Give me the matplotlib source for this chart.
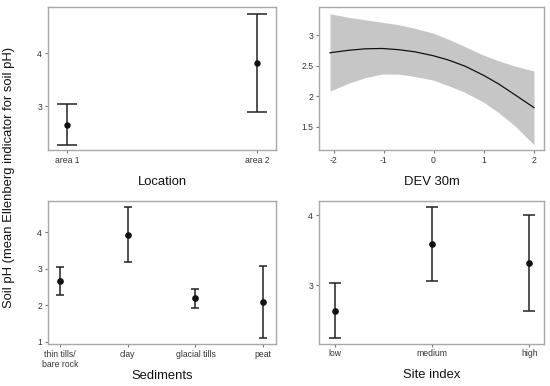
import matplotlib
matplotlib.use("Agg")
import matplotlib.pyplot as plt

plt.rcParams['font.family'] = ['Liberation Sans', 'DejaVu Sans']

# ---- data ----
loc_cats = ["area 1", "area 2"]
loc_mean = [2.65, 3.81]
loc_low = [2.26, 2.88]
loc_high = [3.04, 4.74]

dev_x = [-2.07, -1.70, -1.37, -1.03, -0.70, -0.37, 0.0, 0.30, 0.63, 1.0, 1.30, 1.63, 2.01]
dev_fit = [2.71, 2.75, 2.774, 2.78, 2.76, 2.725, 2.66, 2.59, 2.49, 2.34, 2.20, 2.02, 1.81]
dev_upper = [3.35, 3.29, 3.25, 3.21, 3.17, 3.11, 3.03, 2.93, 2.81, 2.67, 2.58, 2.49, 2.41]
dev_lower = [2.08, 2.21, 2.30, 2.36, 2.36, 2.32, 2.26, 2.17, 2.06, 1.90, 1.73, 1.51, 1.20]

sed_cats = ["thin tills/\nbare rock", "clay", "glacial tills", "peat"]
sed_mean = [2.66, 3.93, 2.19, 2.10]
sed_low = [2.27, 3.18, 1.93, 1.11]
sed_high = [3.05, 4.69, 2.45, 3.08]

site_cats = ["low", "medium", "high"]
site_mean = [2.64, 3.59, 3.32]
site_low = [2.25, 3.06, 2.64]
site_high = [3.03, 4.12, 4.00]

W, H = 550, 386
fig = plt.figure(figsize=(W / 100, H / 100), dpi=100)
fig.patch.set_facecolor("white")


def make_ax(left, top, right, bottom):
    return fig.add_axes([left / W, (H - bottom) / H, (right - left) / W, (bottom - top) / H])


SPINE = "#a8a8a8"
TICKC = "#333333"


def style(ax, xlabel):
    for s in ax.spines.values():
        s.set_color(SPINE)
        s.set_linewidth(1.0)
    ax.tick_params(axis="both", which="both", direction="out", length=2.2, width=0.8,
                   color="#777777", labelsize=6.2, labelcolor=TICKC, pad=2)
    ax.set_xlabel(xlabel, fontsize=9.4, color="#111111")
    ax.xaxis.label.set_va("center")
    bbox_h = ax.get_position().height * H
    ax.xaxis.set_label_coords(0.5, -32.0 / bbox_h)


def errplot(ax, cats, mean, low, high, capsize, ms):
    xs = list(range(1, len(cats) + 1))
    yerr = [[m - l for m, l in zip(mean, low)], [h - m for m, h in zip(mean, high)]]
    ax.errorbar(xs, mean, yerr=yerr, fmt="o", color="#111111", ecolor="#222222",
                elinewidth=1.1, capsize=capsize, capthick=1.1, markersize=ms)
    ax.set_xticks(xs)
    ax.set_xticklabels(cats)


# Panel 1: Location
ax1 = make_ax(48, 7, 276, 150)
errplot(ax1, loc_cats, loc_mean, loc_low, loc_high, 7.4, 3.6)
ax1.set_xlim(0.9, 2.1)
ax1.set_ylim(2.17, 4.87)
ax1.set_yticks([3, 4])
ax1.set_yticklabels(["3", "4"])
style(ax1, "Location")

# Panel 2: DEV 30m
ax2 = make_ax(319, 7, 544, 150)
ax2.fill_between(dev_x, dev_lower, dev_upper, color="#c6c6c6", linewidth=0)
ax2.plot(dev_x, dev_fit, color="#111111", linewidth=0.9)
ax2.set_xlim(-2.29, 2.21)
ax2.set_ylim(1.115, 3.46)
ax2.set_xticks([-2, -1, 0, 1, 2])
ax2.set_xticklabels(["-2", "-1", "0", "1", "2"])
ax2.set_yticks([1.5, 2, 2.5, 3])
ax2.set_yticklabels(["1.5", "2", "2.5", "3"])
style(ax2, "DEV 30m")

# Panel 3: Sediments
ax3 = make_ax(48, 201, 276, 344)
errplot(ax3, sed_cats, sed_mean, sed_low, sed_high, 2.7, 3.8)
ax3.set_xlim(0.82, 4.19)
ax3.set_ylim(0.94, 4.85)
ax3.set_yticks([1, 2, 3, 4])
ax3.set_yticklabels(["1", "2", "3", "4"])
style(ax3, "Sediments")

# Panel 4: Site index
ax4 = make_ax(319, 201, 544, 343.5)
errplot(ax4, site_cats, site_mean, site_low, site_high, 4.1, 3.8)
ax4.set_xlim(0.835, 3.15)
ax4.set_ylim(2.17, 4.2)
ax4.set_yticks([3, 4])
ax4.set_yticklabels(["3", "4"])
style(ax4, "Site index")

fig.text(9 / W, (H - 177) / H, "Soil pH (mean Ellenberg indicator for soil pH)",
         rotation=90, ha="center", va="center", fontsize=9.4, color="#111111")

fig.savefig("out.png", dpi=100, facecolor="white")
